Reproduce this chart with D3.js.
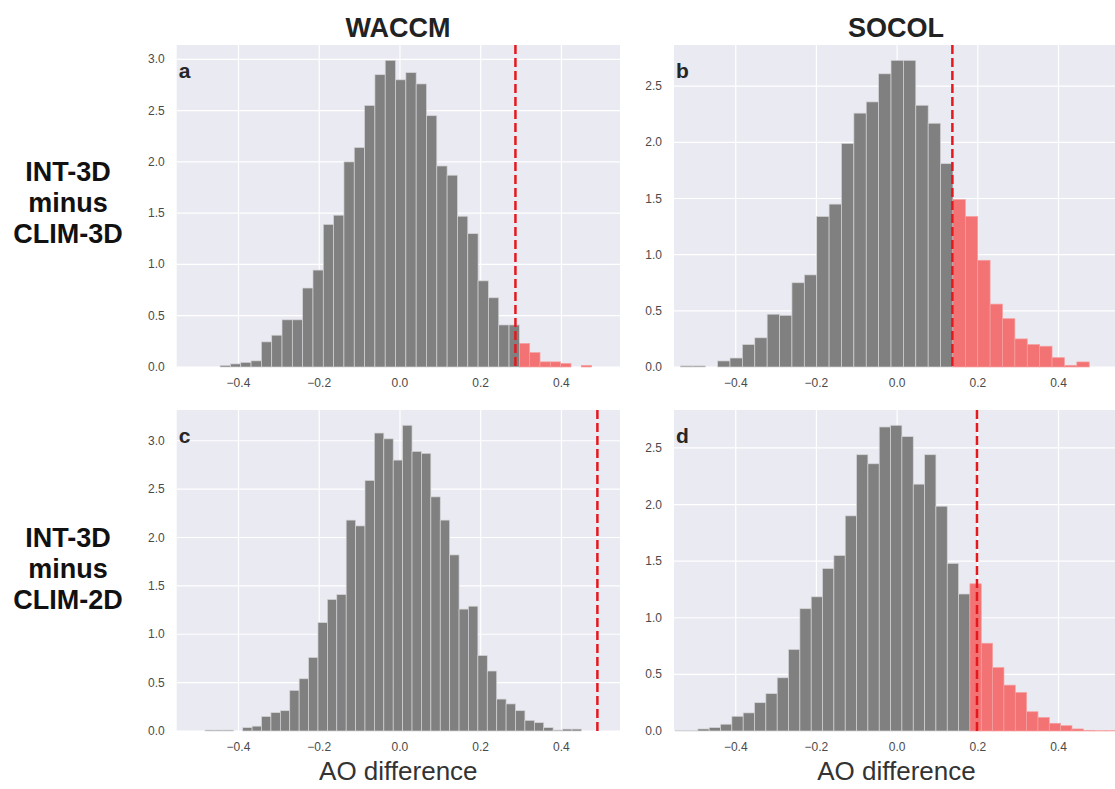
<!DOCTYPE html>
<html>
<head>
    <meta charset="utf-8">
    <title>AO difference histograms</title>
    <script src="https://d3js.org/d3.v7.min.js"></script>
    <style>
        body { margin: 0; background: #fff; }
        text { font-family: "Liberation Sans", Arial, sans-serif; }
        .tick-label { font-size: 12px; fill: #4a4a4a; }
        .grid line { stroke: #fff; stroke-width: 1.2; }
    </style>
</head>
<body>
    <div id="chart"></div>

    <script>
        // column / row titles
        const columnTitles = ["WACCM", "SOCOL"];
        const rowTitles = [["INT-3D", "minus", "CLIM-3D"], ["INT-3D", "minus", "CLIM-2D"]];
        const panelLetters = ["a", "b", "c", "d"];
        const xTicks = [-0.4, -0.2, 0.0, 0.2, 0.4];
        const xDomain = [-0.553, 0.545];

        // histogram bins: first bin left edge, bin width, densities
        const binStarts = [-0.4455, -0.537, -0.4827, -0.5501];
        const binWidths = [0.02556, 0.0307, 0.0233, 0.0281];
        // observed difference (dashed red line)
        const thresholds = [0.286, 0.137, 0.489, 0.198];
        // first bin index painted red
        const firstRed = [29, 22, 40, 26];

        const waccm3dHeights = [0.016, 0.03, 0.045, 0.06, 0.245, 0.31, 0.46, 0.46, 0.77, 0.945,
            1.39, 1.48, 2.0, 2.14, 2.55, 2.85, 2.99, 2.80, 2.87, 2.76,
            2.45, 1.96, 1.87, 1.47, 1.30, 0.84, 0.675, 0.41, 0.41, 0.23,
            0.14, 0.05, 0.05, 0.035, 0, 0.016];
        const socol3dHeights = [0.01, 0.01, 0, 0.054, 0.08, 0.2, 0.26, 0.47, 0.46, 0.75,
            0.82, 1.34, 1.45, 1.99, 2.26, 2.36, 2.61, 2.73, 2.73, 2.33,
            2.17, 1.81, 1.49, 1.34, 0.95, 0.56, 0.43, 0.25, 0.2, 0.185,
            0.083, 0.015, 0.045];
        const waccm2dHeights = [0.01, 0.01, 0.01, 0, 0.035, 0.05, 0.15, 0.19, 0.21, 0.42,
            0.54, 0.76, 1.12, 1.36, 1.41, 2.18, 2.12, 2.59, 3.08, 3.02,
            2.80, 3.16, 2.89, 2.87, 2.42, 2.18, 1.82, 1.26, 1.29, 0.78,
            0.62, 0.33, 0.28, 0.21, 0.11, 0.086, 0.035, 0.01, 0.02, 0.02];
        const socol2dHeights = [0.005, 0.005, 0.018, 0.03, 0.06, 0.13, 0.16, 0.25, 0.33, 0.47,
            0.72, 1.08, 1.185, 1.435, 1.55, 1.9, 2.44, 2.36, 2.685, 2.7,
            2.6, 2.18, 2.44, 1.985, 1.48, 1.21, 1.30, 0.775, 0.56, 0.405,
            0.34, 0.17, 0.12, 0.068, 0.047, 0.018, 0.006, 0.003, 0.003];
        const allHeights = [waccm3dHeights, socol3dHeights, waccm2dHeights, socol2dHeights];

        // layout
        const W = 1115, H = 789;
        const cols = [[176.7, 620], [674, 1117]];
        const rows = [[45, 367], [410, 731]];

        const svg = d3.select("#chart")
            .append("svg")
            .attr("width", W)
            .attr("height", H);

        const fmt = d => (d < 0 ? "\u2212" : "") + Math.abs(d).toFixed(1);

        allHeights.forEach((heights, i) => {
            const c = i % 2, r = Math.floor(i / 2);
            const [x0, x1] = cols[c];
            const [y0, y1] = rows[r];

            const x = d3.scaleLinear().domain(xDomain).range([x0, x1]);
            const y = d3.scaleLinear().domain([0, d3.max(heights) * 1.05]).range([y1, y0]);
            const yTicks = d3.range(0, d3.max(heights) * 1.05, 0.5);

            const g = svg.append("g");

            g.append("rect")
                .attr("x", x0).attr("y", y0)
                .attr("width", x1 - x0).attr("height", y1 - y0)
                .attr("fill", "#eaeaf2");

            // grid
            const grid = g.append("g").attr("class", "grid");
            grid.selectAll(".vx").data(xTicks).enter().append("line")
                .attr("x1", d => x(d)).attr("x2", d => x(d))
                .attr("y1", y0).attr("y2", y1);
            grid.selectAll(".hy").data(yTicks).enter().append("line")
                .attr("x1", x0).attr("x2", x1)
                .attr("y1", d => y(d)).attr("y2", d => y(d));

            // bars
            const bins = heights.map((h, k) => ({
                left: binStarts[i] + k * binWidths[i],
                h: h,
                red: k >= firstRed[i]
            }));
            g.selectAll(".bar").data(bins.filter(b => b.h > 0)).enter().append("rect")
                .attr("x", b => x(b.left))
                .attr("width", b => x(b.left + binWidths[i]) - x(b.left))
                .attr("y", b => y(b.h))
                .attr("height", b => y(0) - y(b.h))
                .attr("fill", b => b.red ? "#f37374" : "#808080")
                .attr("stroke", b => b.red ? "#f5a0a0" : "#d4d4d8")
                .attr("stroke-width", 0.7);

            // observed value
            g.append("line")
                .attr("x1", x(thresholds[i])).attr("x2", x(thresholds[i]))
                .attr("y1", y0).attr("y2", y1)
                .attr("stroke", "#e3191e")
                .attr("stroke-width", 2.5)
                .attr("stroke-dasharray", "9,4");

            // tick labels
            g.selectAll(".xt").data(xTicks).enter().append("text")
                .attr("class", "tick-label")
                .attr("x", d => x(d))
                .attr("y", y1 + 20)
                .attr("text-anchor", "middle")
                .text(fmt);
            g.selectAll(".yt").data(yTicks).enter().append("text")
                .attr("class", "tick-label")
                .attr("x", x0 - 12)
                .attr("y", d => y(d) + 4)
                .attr("text-anchor", "end")
                .text(d => d.toFixed(1));

            // panel letter
            g.append("text")
                .attr("x", x0 + 2)
                .attr("y", y0 + 33)
                .style("font-size", "21px")
                .style("font-weight", "bold")
                .attr("fill", "#262626")
                .text(panelLetters[i]);

            if (r === 1) {
                g.append("text")
                    .attr("x", (x0 + Math.min(x1, W)) / 2 + (c === 1 ? 2 : 0))
                    .attr("y", 780)
                    .attr("text-anchor", "middle")
                    .style("font-size", "26px")
                    .attr("fill", "#333")
                    .text("AO difference");
            }
        });

        // column titles
        svg.selectAll(".col-title").data(columnTitles).enter().append("text")
            .attr("x", (d, k) => k === 0 ? 398 : 896)
            .attr("y", 37)
            .attr("text-anchor", "middle")
            .style("font-size", "27px")
            .style("font-weight", "bold")
            .attr("fill", "#222")
            .text(d => d);

        // row titles
        rowTitles.forEach((lines, r) => {
            const base = r === 0 ? 181 : 547;
            svg.append("g").selectAll("text").data(lines).enter().append("text")
                .attr("x", 68)
                .attr("y", (d, k) => base + k * 31)
                .attr("text-anchor", "middle")
                .style("font-size", "27px")
                .style("font-weight", "bold")
                .attr("fill", "#111")
                .text(d => d);
        });
    </script>
</body>
</html>
